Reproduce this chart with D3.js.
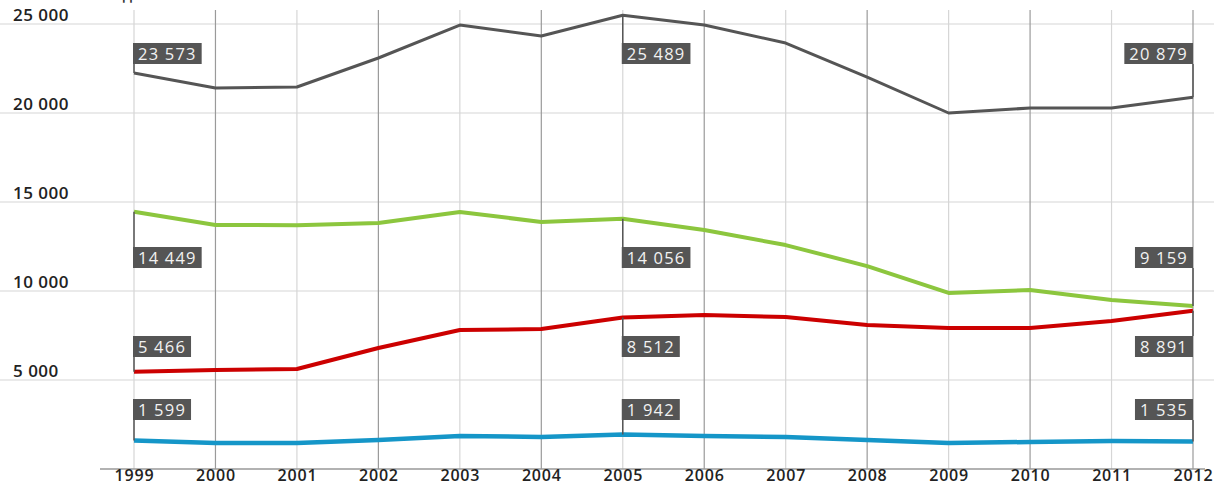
<!DOCTYPE html>
<html><head><meta charset="utf-8">
<script src="https://cdn.jsdelivr.net/npm/d3@7"></script>
<style>body{margin:0;background:#fff}svg{display:block}</style>
</head><body>
<svg id="c" width="1214" height="485"></svg>
<script>
const years = [1999,2000,2001,2002,2003,2004,2005,2006,2007,2008,2009,2010,2011,2012];
const grayVals  = [22250,21400,21460,23090,24940,24330,25490,24940,23930,22020,20000,20280,20280,20880];
const greenVals = [14450,13710,13700,13820,14440,13880,14060,13430,12580,11400,9890,10060,9490,9160];
const redVals   = [5470,5560,5620,6800,7810,7860,8510,8650,8540,8090,7920,7920,8320,8890];
const blueVals  = [1600,1460,1460,1630,1850,1800,1940,1850,1800,1630,1460,1520,1570,1540];
const yTicks = [5000,10000,15000,20000,25000];
const labelYears = [1999,2005,2012];
const grayLabels  = ["23 573","25 489","20 879"];
const greenLabels = ["14 449","14 056","9 159"];
const redLabels   = ["5 466","8 512","8 891"];
const blueLabels  = ["1 599","1 942","1 535"];

const svg = d3.select("#c");
const x = d3.scalePoint().domain(years).range([134,1193]);
const y = d3.scaleLinear().domain([0,25000]).range([469,24]);
const font = "'Open Sans', sans-serif";

// title, almost entirely above the visible area as in the reference
svg.append("text").attr("x",13).attr("y",0).attr("font-family",font).attr("font-size",15)
  .attr("font-weight",600).attr("fill","#333").text("Млн. тонн в год");

// horizontal gridlines
svg.append("g").selectAll("line").data(yTicks).join("line")
  .attr("x1",0).attr("x2",1214).attr("y1",d=>y(d)).attr("y2",d=>y(d))
  .attr("stroke","#e3e3e3").attr("stroke-width",1.5);

// vertical gridlines
svg.append("g").selectAll("line").data(years).join("line")
  .attr("x1",d=>x(d)).attr("x2",d=>x(d)).attr("y1",10).attr("y2",y(0))
  .attr("stroke",(d,i)=> i%2 ? "#9a9a9a" : "#d6d6d6").attr("stroke-width",1.2);

// bottom axis
const xAxis = d3.axisBottom(x).tickSize(0).tickPadding(1);
const gx = svg.append("g").attr("transform",`translate(0,${y(0)})`).call(xAxis);
gx.select(".domain").attr("d","M100,0H1205").attr("stroke","#999").attr("stroke-width",1.5);
gx.selectAll("text").attr("font-family",font).attr("font-size",16).attr("font-weight",600)
  .attr("letter-spacing",0.8).attr("fill","#222");

// y tick labels
const yAxis = d3.axisLeft(y).tickValues(yTicks).tickSize(0)
  .tickFormat(d=>d3.format(",")(d).replace(/,/g," "));
const gy = svg.append("g").call(yAxis);
gy.select(".domain").remove();
gy.selectAll("text").attr("text-anchor","start").attr("x",13).attr("dy",-4)
  .attr("font-family",font).attr("font-size",17).attr("font-weight",600)
  .attr("letter-spacing",0.5).attr("fill","#222");

const series = [
  {vals:grayVals,  labels:grayLabels,  color:"#555555", width:3,   boxTop:43},
  {vals:greenVals, labels:greenLabels, color:"#8cc63e", width:4,   boxTop:247},
  {vals:redVals,   labels:redLabels,   color:"#cc0000", width:4,   boxTop:336},
  {vals:blueVals,  labels:blueLabels,  color:"#1596c8", width:4.5, boxTop:399}
];

const line = d3.line().x((d,i)=>x(years[i])).y(d=>y(d));
series.forEach(s=>{
  svg.append("path").datum(s.vals).attr("d",line).attr("fill","none")
    .attr("stroke",s.color).attr("stroke-width",s.width).attr("stroke-linejoin","round");
});

// value labels
series.forEach(s=>{
  labelYears.forEach((yr,k)=>{
    const i = years.indexOf(yr);
    const px = x(yr), py = y(s.vals[i]);
    const bh = 21, top = s.boxTop;
    const g = svg.append("g");
    const t = g.append("text").attr("font-family",font).attr("font-size",16.5)
      .attr("letter-spacing",1.2).attr("fill","#f2f2f2").attr("y",top+16.5).text(s.labels[k]);
    const w = t.node().getComputedTextLength() + 10;
    const bx = k===2 ? px - w : px - 1;
    t.attr("x", bx + 5);
    g.insert("rect","text").attr("x",bx).attr("y",top).attr("width",w).attr("height",bh).attr("fill","#555");
    const edge = top > py ? top : top + bh;
    g.append("line").attr("x1",px).attr("x2",px).attr("y1",py).attr("y2",edge)
      .attr("stroke","#555").attr("stroke-width",1.5);
  });
});
</script>
</body></html>
